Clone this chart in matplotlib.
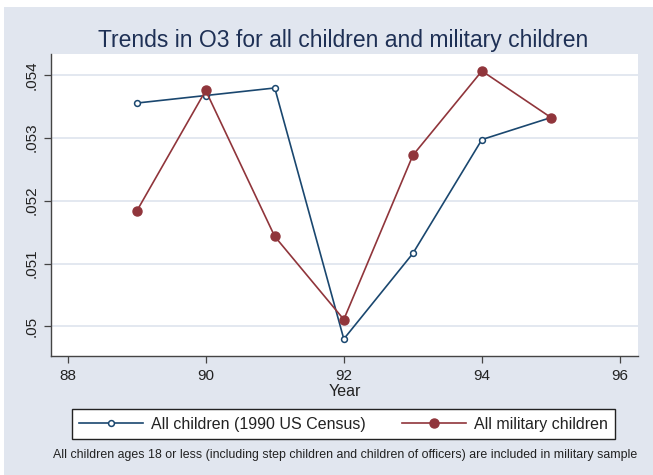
import matplotlib
matplotlib.use('Agg')
import matplotlib.pyplot as plt
from matplotlib.patches import Rectangle

plt.rcParams['font.family'] = ['Liberation Sans', 'DejaVu Sans']

# O3 trend series by survey year
years = [89, 90, 91, 92, 93, 94, 95]
all_children = [0.05355, 0.05367, 0.05379, 0.04980, 0.05116, 0.05297, 0.05332]
military_children = [0.05183, 0.05375, 0.05143, 0.05011, 0.05272, 0.05406, 0.05332]

x_ticks = [88, 90, 92, 94, 96]
y_ticks = [0.050, 0.051, 0.052, 0.053, 0.054]
y_tick_labels = ['.05', '.051', '.052', '.053', '.054']

NAVY = '#1a476f'
MAROON = '#90353b'
BG = '#e1e6ef'
TXT = '#1e3055'

W, H = 653, 475
fig = plt.figure(figsize=(W / 100, H / 100), dpi=100, facecolor='white')
fig.patches.append(Rectangle((4 / W, 0), 1, (H - 7) / H, transform=fig.transFigure,
                             facecolor=BG, edgecolor='none', zorder=-10))

ax = fig.add_axes([51 / W, (H - 356) / H, (638 - 51) / W, (356 - 54) / H])
ax.set_facecolor('white')

ax.plot(years, all_children, color=NAVY, lw=1.2, marker='o', ms=4.2,
        mfc='white', mec=NAVY, mew=1.1, label='All children (1990 US Census)', zorder=3)
ax.plot(years, military_children, color=MAROON, lw=1.2, marker='o', ms=6.5,
        mfc=MAROON, mec=MAROON, label='All military children', zorder=3)

ax.set_xlim(87.76, 96.26)
ax.set_ylim(0.04953, 0.05433)
ax.set_xticks(x_ticks)
ax.set_xticklabels([str(v) for v in x_ticks], fontsize=11)
ax.set_yticks(y_ticks)
ax.set_yticklabels(y_tick_labels, fontsize=11, rotation=90, va='center')
ax.grid(axis='y', color='#e1e6ef', lw=1.3, zorder=0)
ax.set_axisbelow(True)

for s in ('top', 'right'):
    ax.spines[s].set_visible(False)
for s in ('left', 'bottom'):
    ax.spines[s].set_color('#444444')
    ax.spines[s].set_linewidth(1.0)
ax.tick_params(direction='out', length=5, width=0.9, color='#444444',
               labelcolor='#222222', pad=4)
ax.set_xlabel('Year', fontsize=11.5, color='#222222', labelpad=1)

fig.text(343 / W, (H - 40) / H, 'Trends in O3 for all children and military children',
         ha='center', va='center', fontsize=16.5, color=TXT)

leg = fig.legend(loc='center', bbox_to_anchor=(343.5 / W, (H - 424) / H), ncol=2,
                 fontsize=11.5, frameon=True, fancybox=False, edgecolor='#222222',
                 facecolor='white', framealpha=1, handlelength=4.0, columnspacing=2.3,
                 borderpad=0.45, handletextpad=0.5, borderaxespad=0)
leg.get_frame().set_linewidth(1.0)
for t in leg.get_texts():
    t.set_color('#222222')

fig.text(53 / W, (H - 455) / H,
         'All children ages 18 or less (including step children and children of officers) '
         'are included in military sample',
         ha='left', va='center', fontsize=8.9, color='#222222')

fig.savefig('out.png', dpi=100, facecolor='white')
